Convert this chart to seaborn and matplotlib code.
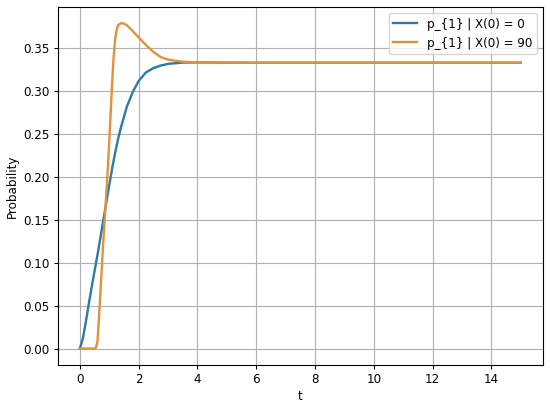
import matplotlib
matplotlib.use("Agg")
import matplotlib.pyplot as plt
import seaborn as sns

# values
t_blue = [0, 0.1, 0.2, 0.3, 0.4, 0.5, 0.6, 0.7, 0.8, 0.9, 1.0, 1.1, 1.2, 1.3, 1.4,
          1.6, 1.8, 2.0, 2.25, 2.5, 2.75, 3.0, 3.5, 4.0, 5.0, 6.0, 8.0, 10.0, 12.0, 15.0]
p_blue = [0.0, 0.011, 0.030, 0.051, 0.071, 0.090, 0.109, 0.129, 0.150, 0.170, 0.190,
          0.210, 0.228, 0.244, 0.258, 0.282, 0.299, 0.312, 0.322, 0.327, 0.330, 0.332,
          0.3335, 0.3337, 0.3334, 0.3333, 0.3333, 0.3333, 0.3333, 0.3333]

t_orange = [0, 0.3, 0.5, 0.55, 0.6, 0.65, 0.7, 0.75, 0.8, 0.85, 0.9, 0.95, 1.0, 1.05,
            1.1, 1.15, 1.2, 1.25, 1.3, 1.4, 1.5, 1.6, 1.75, 2.0, 2.25, 2.5, 2.75, 3.0,
            3.5, 4.0, 5.0, 6.0, 8.0, 10.0, 12.0, 15.0]
p_orange = [0.0, 0.0, 0.0, 0.001, 0.008, 0.035, 0.065, 0.095, 0.125, 0.152, 0.180,
            0.208, 0.240, 0.275, 0.310, 0.340, 0.360, 0.371, 0.377, 0.3795, 0.379,
            0.377, 0.372, 0.363, 0.354, 0.346, 0.340, 0.337, 0.3345, 0.3337, 0.3334,
            0.3333, 0.3333, 0.3333, 0.3333, 0.3333]

labels = ['p_{1} | X(0) = 0', 'p_{1} | X(0) = 90']
colors = ['#2d7aa3', '#e0913b']

# reference looks like a default figure scaled down ~0.86
plt.rcParams['font.size'] = 8.6
plt.rcParams['xtick.major.size'] = 3
plt.rcParams['ytick.major.size'] = 3
plt.rcParams['xtick.major.pad'] = 3
plt.rcParams['ytick.major.pad'] = 3
plt.rcParams['axes.linewidth'] = 0.8
plt.rcParams['grid.linewidth'] = 0.8

fig, ax = plt.subplots(figsize=(5.5, 4.04), dpi=100)

sns.lineplot(x=t_blue, y=p_blue, label=labels[0], color=colors[0], linewidth=1.7, ax=ax)
sns.lineplot(x=t_orange, y=p_orange, label=labels[1], color=colors[1], linewidth=1.7, ax=ax)

ax.grid(True)
ax.set_xlabel('t', labelpad=3)
ax.set_ylabel('Probability', labelpad=3)
ax.set_xticks([0, 2, 4, 6, 8, 10, 12, 14])
ax.legend(loc='upper right')

plt.subplots_adjust(left=0.105, right=0.987, top=0.983, bottom=0.097)
plt.savefig('out.png')
plt.close()
